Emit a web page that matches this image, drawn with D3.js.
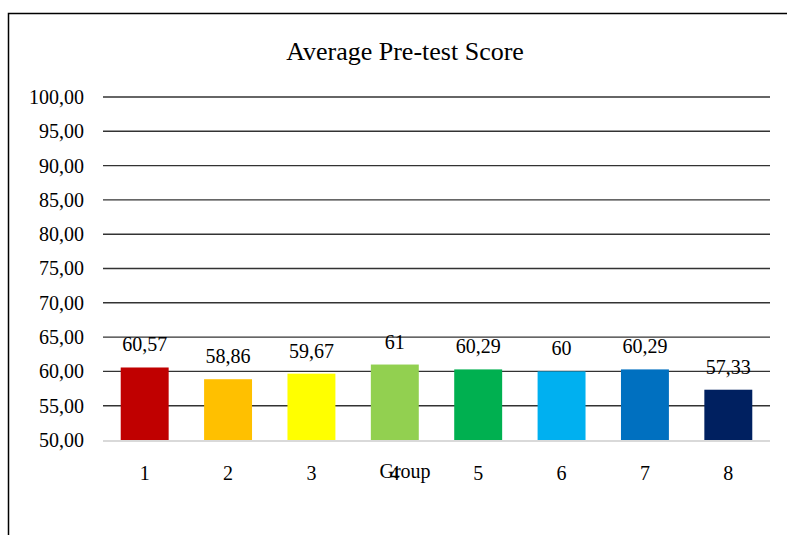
<!DOCTYPE html>
<html><head><meta charset="utf-8">
<script src="https://cdn.jsdelivr.net/npm/d3@7"></script>
<style>body{margin:0;background:#fff}svg{display:block}text{font-family:"Liberation Serif","Times New Roman",serif;fill:#000}</style>
</head><body>
<svg id="c" width="787" height="535"></svg>
<script>
const categories = ["1","2","3","4","5","6","7","8"];
const values = [60.57, 58.86, 59.67, 61, 60.29, 60, 60.29, 57.33];
const valueLabels = ["60,57","58,86","59,67","61","60,29","60","60,29","57,33"];
const colors = ["#C00000","#FFC000","#FFFF00","#92D050","#00B050","#00B0F0","#0070C0","#002060"];
const yTicks = [50,55,60,65,70,75,80,85,90,95,100];
const title = "Average Pre-test Score";
const xTitle = "Group";

(function(){
const svg = d3.select("#c");
svg.append("rect").attr("x",8.5).attr("y",13.5).attr("width",800).attr("height",600)
  .attr("fill","none").attr("stroke","#000").attr("stroke-width",1.5);

const pl=103, pr=770, pt=97, pb=440;
const x = d3.scaleBand().domain(categories).range([pl,pr]).paddingInner(0.425).paddingOuter(0.2125);
const y = d3.scaleLinear().domain([50,100]).range([pb,pt]);

svg.append("text").attr("x",405).attr("y",60).attr("text-anchor","middle").attr("font-size",26).text(title);

const yAxis = d3.axisLeft(y).tickValues(yTicks).tickSize(0).tickPadding(19)
  .tickFormat(d => d3.format(".2f")(d).replace(".",","));
const gy = svg.append("g").attr("transform",`translate(${pl},0)`).call(yAxis);
gy.select(".domain").remove();
gy.selectAll("text").attr("font-size",20).attr("font-family","Liberation Serif").attr("dy","0.32em");

svg.append("g").selectAll("line").data(yTicks.filter(d=>d>50)).join("line")
  .attr("x1",pl).attr("x2",pr).attr("y1",d=>y(d)).attr("y2",d=>y(d))
  .attr("stroke","#333").attr("stroke-width",1.4);

svg.append("g").selectAll("rect").data(values).join("rect")
  .attr("x",(d,i)=>x(categories[i])).attr("width",x.bandwidth())
  .attr("y",d=>y(d)).attr("height",d=>pb-y(d)).attr("fill",(d,i)=>colors[i]);

svg.append("line").attr("x1",pl).attr("x2",pr).attr("y1",pb+1).attr("y2",pb+1)
  .attr("stroke","#d9d9d9").attr("stroke-width",2);

svg.append("g").selectAll("text").data(values).join("text")
  .attr("x",(d,i)=>x(categories[i])+x.bandwidth()/2).attr("y",d=>y(d)-16)
  .attr("text-anchor","middle").attr("font-size",20).text((d,i)=>valueLabels[i]);

const xAxis = d3.axisBottom(x).tickSize(0).tickPadding(26);
const gx = svg.append("g").attr("transform",`translate(0,${pb})`).call(xAxis);
gx.select(".domain").remove();
gx.selectAll("text").attr("font-size",20).attr("font-family","Liberation Serif");

svg.append("text").attr("x",405).attr("y",478).attr("text-anchor","middle").attr("font-size",20).text(xTitle);
})();
</script>
</body></html>
